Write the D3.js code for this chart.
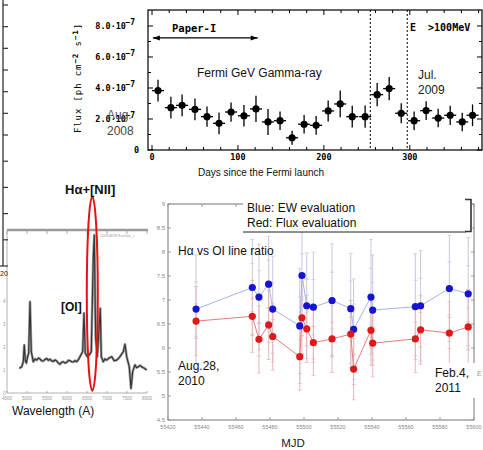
<!DOCTYPE html>
<html><head><meta charset="utf-8">
<script src="https://cdn.jsdelivr.net/npm/d3@7"></script>
<style>body{margin:0;background:#fff}svg{display:block;font-family:"Liberation Sans",Arial,sans-serif}</style>
</head><body>
<svg id="c" width="483" height="450"></svg>
<script>
// ---------- Fermi light curve (flux in units of 1e-7 ph cm^-2 s^-1) ----------
const fermiDays = [7,22,35,50,64,78,92,107,121,135,149,163,177,191,205,219,233,248,262,276,290,305,319,333,347,361,373];
const fermiFlux = [3.83,2.73,2.88,2.62,2.15,1.72,2.45,2.21,2.65,1.81,1.89,0.79,1.66,1.59,2.52,2.97,2.15,2.15,3.57,3.96,2.37,1.89,2.54,2.06,2.24,1.81,2.24];
const fermiErr  = [0.70,0.70,0.70,0.70,0.65,0.70,0.62,0.70,0.85,0.84,0.60,0.45,0.60,0.60,0.68,0.86,0.70,0.72,0.75,0.75,0.65,0.60,0.60,0.60,0.62,0.60,0.70];
const fermiBinHalf = 7;
const fermiDashDays = [254, 297];
const fermiYTicks = [0,2,4,6,8];
const fermiYLabels = ["0","2.0·10","4.0·10","6.0·10","8.0·10"];
const fermiXTicks = [0,100,200,300];
const paperIRange = [1,123];

// ---------- H-alpha / OI line ratio ----------
const mjd       = [55436.5,55469.6,55473.5,55479.2,55481.6,55497.5,55498.8,55501.6,55505.5,55516.5,55527.5,55529.2,55539.4,55540.4,55565.5,55568.6,55585.5,55596.6];
const ewRatio   = [6.81,7.26,7.06,7.33,6.81,6.46,7.51,6.88,6.85,6.99,6.82,6.39,7.06,6.79,6.86,6.88,7.24,7.13];
const ewErr     = [1.13,1.00,1.10,1.00,1.10,1.20,0.90,1.10,1.15,1.18,1.15,1.05,1.20,1.15,1.10,1.15,1.11,1.17];
const fluxRatio = [6.56,6.66,6.18,6.48,6.24,5.82,6.63,6.40,6.11,6.19,6.29,5.56,6.37,6.10,6.19,6.38,6.31,6.44];
const fluxErr   = [0.72,0.75,0.70,0.72,0.70,0.70,0.75,0.70,0.68,0.70,0.70,0.64,0.73,0.70,0.70,0.72,0.65,0.78];
const mjdTicks  = [55420,55440,55460,55480,55500,55520,55540,55560,55580,55600];
const ratioTicks= [4.5,5,5.5,6,6.5,7,7.5,8,8.5,9];

// ---------- optical spectrum ----------
const specWave = [4807,4867,4907,4932,4957,4985,5007,5042,5075,5107,5157,5200,5242,5285,5325,5365,5407,5450,5492,5535,5575,5615,5657,5700,5742,5785,5825,5865,5907,5950,5992,6035,6075,6115,6157,6200,6242,6285,6325,6392,6425,6457,6507,6557,6607,6657,6682,6717,6757,6807,6832,6857,6907,6950,6992,7050,7117,7180,7242,7285,7325,7407,7450,7492,7557,7600,7642,7700,7740,7782,7825,7867,7930,7992];
const specFlux = [1.07,1.14,1.36,2.09,1.43,1.30,1.52,1.74,3.97,1.80,1.36,1.48,1.43,1.52,1.48,1.40,1.39,1.46,1.50,1.42,1.47,1.40,1.37,1.44,1.39,1.30,1.25,1.34,1.36,1.30,1.33,1.42,1.40,1.36,1.35,1.41,1.36,1.45,1.58,1.80,3.48,1.73,1.58,1.65,1.80,5.87,6.87,2.39,1.58,2.96,3.68,1.58,1.36,1.48,1.43,1.52,1.58,1.40,1.43,1.50,1.58,1.80,2.12,1.58,1.14,0.20,0.93,1.22,1.10,1.14,1.20,1.14,1.08,1.00];
const specXTicks = [4500,5000,5500,6000,6500,7000,7500,8000];
const specYTicks = [0,1,2,3,4];

// ---------- left partial axis ----------
const leftTicks = [0,1,2,3,4,5,6,7,8,9,10,11];

const svg = d3.select("#c");
svg.append("rect").attr("width",483).attr("height",450).attr("fill","#fff");

// ================= Scatter (bottom right) =================
const sx = d3.scaleLinear().domain([55420,55600]).range([168,474]);
const sy = d3.scaleLinear().domain([4.5,9]).range([420,204]);
const sc = svg.append("g");
sc.append("rect").attr("x",sx(55420)).attr("y",sy(9)).attr("width",sx(55600)-sx(55420)).attr("height",sy(4.5)-sy(9))
  .attr("fill","none").attr("stroke","#8c8c8c").attr("stroke-width",1.2);
mjdTicks.forEach(t=>{
  sc.append("line").attr("x1",sx(t)).attr("x2",sx(t)).attr("y1",sy(4.5)).attr("y2",sy(4.5)-3).attr("stroke","#999");
  sc.append("line").attr("x1",sx(t)).attr("x2",sx(t)).attr("y1",sy(9)).attr("y2",sy(9)+3).attr("stroke","#999");
  sc.append("text").attr("x",sx(t)).attr("y",429).attr("text-anchor","middle").attr("font-size",5.5).attr("fill","#888").text(t);
});
ratioTicks.forEach(t=>{
  sc.append("line").attr("x1",sx(55420)).attr("x2",sx(55420)+3).attr("y1",sy(t)).attr("y2",sy(t)).attr("stroke","#999");
  sc.append("line").attr("x1",sx(55600)).attr("x2",sx(55600)-3).attr("y1",sy(t)).attr("y2",sy(t)).attr("stroke","#999");
  sc.append("text").attr("x",165).attr("y",sy(t)+2).attr("text-anchor","end").attr("font-size",6).attr("fill","#888").text(String(t));
});
// error bars
mjd.forEach((m,i)=>{
  const x = sx(m);
  [[ewRatio[i],ewErr[i],"#c6c8e2"],[fluxRatio[i],fluxErr[i],"#e8b6b6"]].forEach(([v,e,c])=>{
    sc.append("line").attr("x1",x).attr("x2",x).attr("y1",sy(v-e)).attr("y2",sy(v+e)).attr("stroke",c).attr("stroke-width",1);
    [v-e,v+e,v-e/2,v+e/2].forEach(q=>sc.append("line").attr("x1",x-2).attr("x2",x+2).attr("y1",sy(q)).attr("y2",sy(q)).attr("stroke",c).attr("stroke-width",0.8));
  });
});
const lineB = d3.line().x((d,i)=>sx(mjd[i])).y(d=>sy(d));
sc.append("path").attr("d",lineB(ewRatio)).attr("fill","none").attr("stroke","#a9b2ea").attr("stroke-width",1);
sc.append("path").attr("d",lineB(fluxRatio)).attr("fill","none").attr("stroke","#e57d7d").attr("stroke-width",1);
sc.selectAll(".pb").data(ewRatio).enter().append("circle").attr("cx",(d,i)=>sx(mjd[i])).attr("cy",d=>sy(d)).attr("r",3.6).attr("fill","#1414d2");
sc.selectAll(".pr").data(fluxRatio).enter().append("circle").attr("cx",(d,i)=>sx(mjd[i])).attr("cy",d=>sy(d)).attr("r",3.6).attr("fill","#dc1a1a");
// legend box
sc.append("rect").attr("x",243).attr("y",194).attr("width",229).attr("height",38).attr("fill","#fff");
sc.append("line").attr("x1",243).attr("x2",466).attr("y1",232).attr("y2",232).attr("stroke","#222").attr("stroke-width",1);
sc.append("path").attr("d","M465,199.5H471V231.5H465").attr("fill","none").attr("stroke","#333").attr("stroke-width",1.6);
sc.append("text").attr("x",247).attr("y",212).attr("font-size",12).attr("fill","#111").text("Blue: EW evaluation");
sc.append("text").attr("x",247).attr("y",227).attr("font-size",12).attr("fill","#111").text("Red: Flux evaluation");
sc.append("text").attr("x",178).attr("y",255).attr("font-size",12).attr("fill","#111").text("Hα vs OI line ratio");
sc.append("text").attr("x",178).attr("y",370).attr("font-size",12).attr("fill","#111").text("Aug.28,");
sc.append("text").attr("x",178).attr("y",385).attr("font-size",12).attr("fill","#111").text("2010");
sc.append("text").attr("x",477).attr("y",376).attr("font-size",7).attr("fill","#999").text("E");
sc.append("rect").attr("x",432).attr("y",363).attr("width",44).attr("height",35).attr("fill","#fff");
sc.append("text").attr("x",435).attr("y",377).attr("font-size",12).attr("fill","#111").text("Feb.4,");
sc.append("text").attr("x",435).attr("y",392).attr("font-size",12).attr("fill","#111").text("2011");
sc.append("text").attr("x",293).attr("y",447).attr("text-anchor","middle").attr("font-size",11.5).attr("fill","#222").text("MJD");

// ================= Spectrum (bottom left) =================
const wx = d3.scaleLinear().domain([4500,8000]).range([7,147]);
const wy = d3.scaleLinear().domain([0,7]).range([393,232]);
const sp = svg.append("g");
sp.append("line").attr("x1",7).attr("x2",7).attr("y1",230).attr("y2",393).attr("stroke","#b0b0b0");
sp.append("line").attr("x1",7).attr("x2",147).attr("y1",393).attr("y2",393).attr("stroke","#b0b0b0");
sp.append("line").attr("x1",7).attr("x2",148).attr("y1",230).attr("y2",230).attr("stroke","#9a9a9a").attr("stroke-width",2.5);
specXTicks.forEach(t=>{
  sp.append("line").attr("x1",wx(t)).attr("x2",wx(t)).attr("y1",231).attr("y2",234).attr("stroke","#aaa");
  sp.append("line").attr("x1",wx(t)).attr("x2",wx(t)).attr("y1",393).attr("y2",391).attr("stroke","#aaa");
  sp.append("text").attr("x",wx(t)).attr("y",400).attr("text-anchor","middle").attr("font-size",4.5).attr("fill","#999").text(t);
});
specYTicks.forEach(t=>{
  sp.append("text").attr("x",5.5).attr("y",wy(t)+1.5).attr("text-anchor","end").attr("font-size",4.5).attr("fill","#999").text(t);
});
sp.append("text").attr("x",100).attr("y",237).attr("font-size",3.8).attr("fill","#999").text("12010828-Fuchan_r");
const sline = d3.line().x((d,i)=>wx(specWave[i])).y(d=>wy(d));
sp.append("path").attr("d",sline(specFlux)).attr("fill","none").attr("stroke","#9a9a9a").attr("stroke-width",2.6).attr("stroke-linejoin","round");
sp.append("path").attr("d",sline(specFlux)).attr("fill","none").attr("stroke","#333").attr("stroke-width",1.1).attr("stroke-linejoin","round");
sp.append("ellipse").attr("cx",92.3).attr("cy",293.7).attr("rx",5.5).attr("ry",97).attr("fill","none").attr("stroke","#e81010").attr("stroke-width",2);
sp.append("text").attr("x",65).attr("y",194).attr("font-size",13).attr("font-weight","bold").attr("fill","#111").text("Hα+[NII]");
sp.append("text").attr("x",61).attr("y",311).attr("font-size",12).attr("font-weight","bold").attr("fill","#111").text("[OI]");
sp.append("text").attr("x",12).attr("y",415).attr("font-size",12).attr("fill","#111").text("Wavelength (A)");

// ================= Left partial axis =================
const ly = d3.scaleLinear().domain([0,5,11]).range([266,135,5]);
const lg = svg.append("g");
lg.append("line").attr("x1",3).attr("x2",3).attr("y1",0).attr("y2",ly(0)).attr("stroke","#333").attr("stroke-width",1.3);
leftTicks.forEach(t=>lg.append("line").attr("x1",t===0?0:3).attr("x2",8).attr("y1",ly(t)).attr("y2",ly(t)).attr("stroke","#333").attr("stroke-width",1.2));
lg.append("text").attr("x",0).attr("y",276).attr("font-size",7).attr("fill","#222").text("20");

// ================= Fermi light curve (top) =================
const fx = d3.scaleLinear().domain([0,384]).range([152,482]);
const fy = d3.scaleLinear().domain([0,9.03]).range([150,10]);
const fg = svg.append("g");
const mono = "'DejaVu Sans Mono','Liberation Mono',monospace";
fg.append("rect").attr("x",148).attr("y",10).attr("width",334).attr("height",140).attr("fill","none").attr("stroke","#000").attr("stroke-width",1.2);
d3.range(0,9,1).forEach(t=>{
  const L = t%2===0?5:3;
  fg.append("line").attr("x1",148).attr("x2",148+L).attr("y1",fy(t)).attr("y2",fy(t)).attr("stroke","#000");
  fg.append("line").attr("x1",482).attr("x2",482-L).attr("y1",fy(t)).attr("y2",fy(t)).attr("stroke","#000");
});
d3.range(0,384,20).forEach(t=>{
  const L = t%100===0?5:3;
  fg.append("line").attr("x1",fx(t)).attr("x2",fx(t)).attr("y1",150).attr("y2",150-L).attr("stroke","#000");
  fg.append("line").attr("x1",fx(t)).attr("x2",fx(t)).attr("y1",10).attr("y2",10+L).attr("stroke","#000");
});
fermiYTicks.forEach((t,i)=>{
  fg.append("text").attr("x",t===0?139:126).attr("y",fy(t)+3).attr("text-anchor","end")
    .attr("font-family",mono).attr("font-weight","bold").attr("font-size",8.5).attr("fill","#000").text(fermiYLabels[i]);
  if(t!==0) fg.append("text").attr("x",125.5).attr("y",fy(t)-1).attr("font-family",mono).attr("font-weight","bold").attr("font-size",8).attr("fill","#000").text("−7");
});
fermiXTicks.forEach(t=>{
  fg.append("text").attr("x",fx(t)).attr("y",160).attr("text-anchor","middle").attr("font-family",mono).attr("font-weight","bold").attr("font-size",8.5).text(t);
});
fg.append("text").attr("transform","translate(81,78) rotate(-90)").attr("text-anchor","middle").attr("font-family",mono).attr("font-size",9).attr("letter-spacing",0.9).attr("fill","#000")
  .html('Flux [ph cm<tspan dy="-3" font-size="7.5" font-weight="bold">−2</tspan><tspan dy="3"> s</tspan><tspan dy="-3" font-size="7.5" font-weight="bold">−1</tspan><tspan dy="3">]</tspan>');
fermiDashDays.forEach(d=>fg.append("line").attr("x1",fx(d)).attr("x2",fx(d)).attr("y1",10).attr("y2",150).attr("stroke","#000").attr("stroke-width",1).attr("stroke-dasharray","2,2"));
// error bars and points
fermiDays.forEach((d,i)=>{
  fg.append("line").attr("x1",fx(d-fermiBinHalf)).attr("x2",fx(d+fermiBinHalf)).attr("y1",fy(fermiFlux[i])).attr("y2",fy(fermiFlux[i])).attr("stroke","#000").attr("stroke-width",1.3);
  fg.append("line").attr("x1",fx(d)).attr("x2",fx(d)).attr("y1",fy(fermiFlux[i]-fermiErr[i])).attr("y2",fy(fermiFlux[i]+fermiErr[i])).attr("stroke","#000").attr("stroke-width",1.3);
});
fg.selectAll(".fp").data(fermiFlux).enter().append("circle").attr("cx",(d,i)=>fx(fermiDays[i])).attr("cy",d=>fy(d)).attr("r",3.6).attr("fill","#000");
// Paper-I arrow
const ay = fy(7.23), a0 = fx(paperIRange[0]), a1 = fx(paperIRange[1]);
fg.append("line").attr("x1",a0).attr("x2",a1).attr("y1",ay).attr("y2",ay).attr("stroke","#000").attr("stroke-width",1.2);
fg.append("path").attr("d",`M${a0},${ay}l7,-2.5v5z M${a1},${ay}l-7,-2.5v5z`).attr("fill","#000");
fg.append("text").attr("x",172).attr("y",32).attr("font-family",mono).attr("font-weight","bold").attr("font-size",10.5).text("Paper-I");
fg.append("text").attr("x",410).attr("y",31).attr("font-family",mono).attr("font-weight","bold").attr("font-size",10).attr("xml:space","preserve").style("white-space","pre").text("E  >100MeV");
fg.append("text").attr("x",197).attr("y",77).attr("font-size",12).attr("fill","#111").text("Fermi GeV Gamma-ray");
fg.append("text").attr("x",418).attr("y",79).attr("font-size",12).attr("fill","#222").text("Jul.");
fg.append("text").attr("x",418).attr("y",94).attr("font-size",12).attr("fill","#222").text("2009");
fg.append("text").attr("x",107).attr("y",119).attr("font-size",12).attr("fill","#555").text("Aug.");
fg.append("text").attr("x",107).attr("y",135).attr("font-size",12).attr("fill","#444").text("2008");
fg.append("text").attr("x",261).attr("y",176).attr("text-anchor","middle").attr("font-size",10).attr("fill","#111").text("Days since the Fermi launch");
</script>
</body></html>
